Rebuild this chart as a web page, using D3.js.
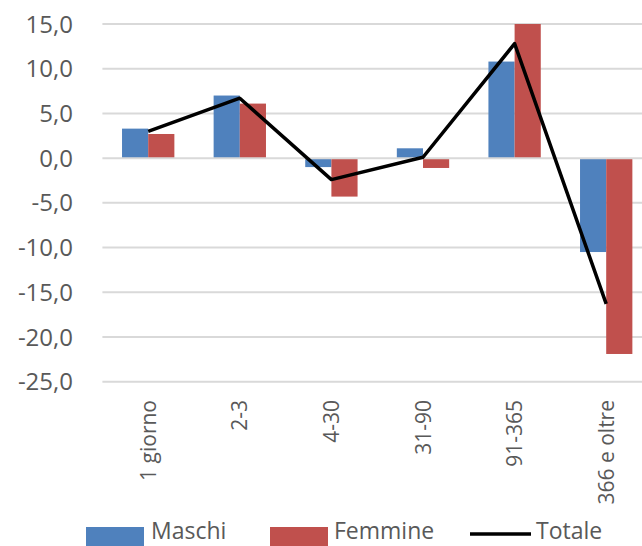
<!DOCTYPE html>
<html>
<head>
<meta charset="utf-8">
<script src="https://cdn.jsdelivr.net/npm/d3@7"></script>
<style>
  html, body { margin: 0; padding: 0; background: #fff; }
  svg { display: block; font-family: "Open Sans", sans-serif; }
</style>
</head>
<body>
<div id="chart"></div>
<script>
let categories = ["1 giorno", "2-3", "4-30", "31-90", "91-365", "366 e oltre"];
let maschi = [3.3, 7.0, -1.0, 1.1, 10.8, -10.5];
let femmine = [2.7, 6.1, -4.3, -1.1, 15.0, -21.9];
let totale = [3.0, 6.7, -2.4, 0.1, 12.8, -16.3];
let yTicks = [15, 10, 5, 0, -5, -10, -15, -20, -25];

let colors = { maschi: "#4F81BD", femmine: "#C0504D", totale: "#000000" };
let width = 642, height = 546;

function draw() {
  let svg = d3.select("#chart")
    .append("svg")
    .attr("width", width)
    .attr("height", height);

  let x0 = d3.scaleBand()
    .domain(categories)
    .range([102.4, 652])
    .paddingInner(3 / 7)
    .paddingOuter(1.5 / 7);

  let x1 = d3.scaleBand()
    .domain(["maschi", "femmine"])
    .range([0, x0.bandwidth()]);

  let y = d3.scaleLinear()
    .domain([-25, 15])
    .range([381.7, 24]);

  let fmt = v => d3.format(".1f")(v).replace(".", ",").replace("\u2212", "-");

  /* ------------------ gridlines + y labels ------------------ */
  let grid = svg.append("g");
  grid.selectAll("line")
    .data(yTicks.filter(d => d !== 0))
    .enter()
    .append("line")
    .attr("x1", 102.4)
    .attr("x2", width)
    .attr("y1", d => y(d))
    .attr("y2", d => y(d))
    .attr("stroke", "#D9D9D9")
    .attr("stroke-width", 2);

  svg.append("g")
    .selectAll("text")
    .data(yTicks)
    .enter()
    .append("text")
    .attr("x", 73)
    .attr("y", d => y(d))
    .attr("dy", "0.36em")
    .attr("text-anchor", "end")
    .attr("fill", "#595959")
    .style("font-size", "24px")
    .text(d => fmt(d));

  /* ------------------ bars ------------------ */
  let series = [
    { key: "maschi", values: maschi },
    { key: "femmine", values: femmine }
  ];
  series.forEach(s => {
    svg.append("g")
      .selectAll("rect")
      .data(s.values)
      .enter()
      .append("rect")
      .attr("x", (d, i) => x0(categories[i]) + x1(s.key))
      .attr("width", x1.bandwidth())
      .attr("y", d => y(Math.max(0, d)))
      .attr("height", d => Math.abs(y(d) - y(0)))
      .attr("fill", colors[s.key]);
  });

  // zero axis on top of bars
  svg.append("line")
    .attr("x1", 102.4)
    .attr("x2", width)
    .attr("y1", y(0))
    .attr("y2", y(0))
    .attr("stroke", "#D9D9D9")
    .attr("stroke-width", 2);

  /* ------------------ line ------------------ */
  let line = d3.line()
    .x((d, i) => x0(categories[i]) + x0.bandwidth() / 2)
    .y(d => y(d));

  svg.append("path")
    .datum(totale)
    .attr("d", line)
    .attr("fill", "none")
    .attr("stroke", colors.totale)
    .attr("stroke-width", 3.5)
    .attr("stroke-linejoin", "round");

  /* ------------------ category labels ------------------ */
  svg.append("g")
    .selectAll("text")
    .data(categories)
    .enter()
    .append("text")
    .attr("transform", d => "translate(" + (x0(d) + x0.bandwidth() / 2) + ",400) rotate(-90)")
    .attr("dy", "0.36em")
    .attr("text-anchor", "end")
    .attr("fill", "#595959")
    .style("font-size", "21px")
    .text(d => d);

  /* ------------------ legend ------------------ */
  let legend = svg.append("g");
  legend.append("rect").attr("x", 86).attr("y", 527).attr("width", 58).attr("height", 19).attr("fill", colors.maschi);
  legend.append("text").attr("x", 151).attr("y", 539).attr("fill", "#595959").style("font-size", "23px").text("Maschi");
  legend.append("rect").attr("x", 270).attr("y", 527).attr("width", 58).attr("height", 19).attr("fill", colors.femmine);
  legend.append("text").attr("x", 334).attr("y", 539).attr("fill", "#595959").style("font-size", "23px").text("Femmine");
  legend.append("line").attr("x1", 470).attr("x2", 531).attr("y1", 534).attr("y2", 534)
    .attr("stroke", colors.totale).attr("stroke-width", 3.5);
  legend.append("text").attr("x", 536).attr("y", 539).attr("fill", "#595959").style("font-size", "23px").text("Totale");
}

draw();
</script>
</body>
</html>
